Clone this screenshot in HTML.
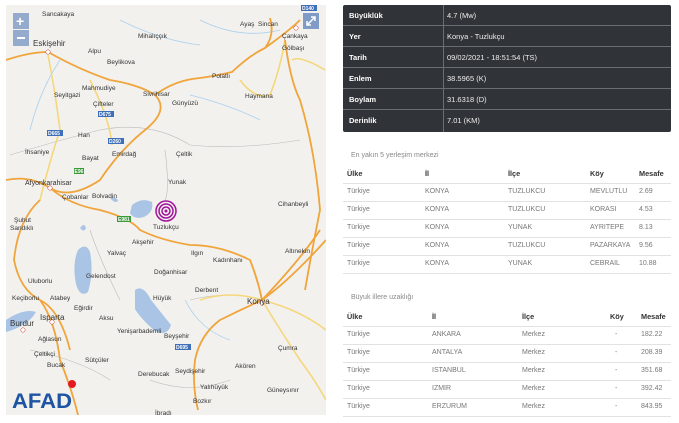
<!DOCTYPE html>
<html><head><meta charset="utf-8"><style>
*{margin:0;padding:0;box-sizing:border-box}
body{width:679px;height:423px;background:#fff;font-family:"Liberation Sans",sans-serif;position:relative;overflow:hidden}
.t{position:absolute;white-space:nowrap}
.dk{position:absolute;left:343px;top:5px;width:328px;height:127px;background:#303337;border-radius:2px}
.dk .r{position:absolute;left:0;width:328px;height:21px;border-bottom:1px solid #6a6d72;font-size:7.5px;color:#eee}
.dk .r b{position:absolute;left:6px;top:6px;font-weight:bold;color:#fff}
.dk .r span{position:absolute;left:104px;top:6px}
.dk .v{position:absolute;left:100px;top:0;width:1px;height:127px;background:#6a6d72}
.tb{position:absolute;font-size:7px;color:#777}
.tb .h{font-weight:bold;color:#333;font-size:7.3px}
.ln{position:absolute;left:343px;width:328px;height:1px;background:#e2e2e2}
.ml{font-family:"Liberation Sans",sans-serif;font-size:6.5px;fill:#333}
</style></head><body>
<svg style="position:absolute;left:6px;top:5px" width="320" height="410" viewBox="6 5 320 410">
<rect x="6" y="5" width="320" height="410" fill="#f2f1ee"/>
<g fill="#a9c4e4">
<path d="M132 205 q10 -8 20 -3 q2 10 -8 15 q-10 3 -14 -4z"/>
<path d="M78 250 q8 -8 12 2 q4 20 -2 40 q-8 6 -12 -8 q-4 -20 2 -34z"/>
<path d="M135 290 q8 -6 16 10 q12 15 20 25 q-4 12 -16 6 q-14 -12 -20 -22z"/>
<path d="M6 320 q18 -12 30 -8 q-8 14 -30 20z"/>
<path d="M110 198 q6 -2 8 3 q-3 3 -8 -3z"/>
<path d="M80 228 q4 -6 6 0 q-2 5 -6 0z"/>
</g>
<g fill="none" stroke="#a9d0ef" stroke-width="0.8">
<path d="M200 20 Q240 40 280 30 M120 20 Q160 40 200 45 M190 95 Q230 105 260 120 M60 60 Q40 90 30 130 M185 300 Q200 330 230 340"/>
</g>
<g fill="none" stroke="#bbb" stroke-width="0.6">
<path d="M10 155 Q60 140 100 130 Q150 120 190 145 Q240 150 300 140 M165 150 Q170 190 165 200 M90 230 Q100 260 120 300 M190 300 Q230 290 260 300 M30 350 Q80 360 110 380 M150 380 Q190 395 230 380"/>
</g>
<g fill="none" stroke="#f5d77a" stroke-width="1.6">
<path d="M48 55 Q55 90 60 130 Q50 160 40 200 M90 80 Q110 120 112 145 M240 80 Q255 100 270 95 Q280 70 285 40 M292 60 Q300 55 325 70 M200 300 Q230 290 262 300 Q300 310 326 330 M262 300 Q280 330 300 360 Q315 380 326 400"/>
</g>
<g fill="none" stroke="#f0a43a" stroke-width="1.8">
<path d="M6 60 Q30 52 48 52 Q80 70 110 80 Q140 85 155 95 Q170 110 145 130 Q120 150 100 180 Q70 200 50 188 Q30 175 6 180"/>
<path d="M155 95 Q175 80 200 78 Q215 76 232 72 Q250 55 265 48 Q275 35 270 18 M265 48 Q290 30 300 20 M285 40 Q290 80 300 100 Q315 150 320 210 Q312 250 305 290 M50 188 Q70 205 100 210 Q130 218 140 230 Q160 240 190 245 Q220 245 250 260 Q258 280 262 300 M262 300 Q240 310 220 320 Q200 335 195 360 Q192 385 198 410 M262 300 Q290 280 326 240 M262 300 Q300 260 320 230 M40 200 Q18 220 14 260 Q20 290 40 300 Q55 320 60 360 Q72 390 78 415 M40 300 Q60 310 70 350"/>
</g>
<g fill="none" stroke="#b0b0b0" stroke-width="0.5"><circle cx="48" cy="52" r="2.2" fill="#fff" stroke="#c33"/><circle cx="50" cy="188" r="2.2" fill="#fff" stroke="#c33"/><circle cx="262" cy="303" r="2.2" fill="#fff" stroke="#c33"/><circle cx="296" cy="28" r="2.2" fill="#fff" stroke="#c33"/><circle cx="23" cy="330" r="2.2" fill="#fff" stroke="#c33"/><circle cx="52" cy="322" r="2.2" fill="#fff" stroke="#c33"/></g>
<g fill="none" stroke="#a0129a" stroke-width="1.5"><circle cx="166" cy="211" r="10"/><circle cx="166" cy="211" r="7"/><circle cx="166" cy="211" r="4"/></g>
<circle cx="166" cy="211" r="1.5" fill="#a0129a"/>
<g class="ml">
<text x="42" y="16">Sancakaya</text><text x="33" y="46" font-size="8">Eskişehir</text><text x="138" y="38">Mihalıççık</text><text x="88" y="53">Alpu</text><text x="107" y="64">Beylikova</text><text x="82" y="90">Mahmudiye</text><text x="54" y="97">Seyitgazi</text><text x="143" y="96">Sivrihisar</text><text x="172" y="105">Günyüzü</text><text x="93" y="106">Çifteler</text><text x="212" y="78">Polatlı</text><text x="245" y="98">Haymana</text><text x="78" y="137">Han</text><text x="25" y="154">İhsaniye</text><text x="82" y="160">Bayat</text><text x="112" y="156">Emirdağ</text><text x="176" y="156">Çeltik</text><text x="168" y="184">Yunak</text><text x="25" y="185" font-size="7">Afyonkarahisar</text><text x="62" y="199">Çobanlar</text><text x="92" y="198">Bolvadin</text><text x="240" y="26">Ayaş</text><text x="258" y="26">Sincan</text><text x="282" y="38">Çankaya</text><text x="282" y="50">Gölbaşı</text><text x="278" y="206">Cihanbeyli</text><text x="14" y="222">Şuhut</text><text x="10" y="230">Sandıklı</text><text x="153" y="229">Tuzlukçu</text><text x="132" y="244">Akşehir</text><text x="107" y="255">Yalvaç</text><text x="191" y="255">Ilgın</text><text x="213" y="262">Kadınhanı</text><text x="285" y="253">Altınekin</text><text x="86" y="278">Gelendost</text><text x="154" y="274">Doğanhisar</text><text x="28" y="283">Uluborlu</text><text x="195" y="292">Derbent</text><text x="153" y="300">Hüyük</text><text x="12" y="300">Keçiborlu</text><text x="50" y="300">Atabey</text><text x="247" y="304" font-size="8">Konya</text><text x="74" y="310">Eğirdir</text><text x="40" y="320" font-size="8">Isparta</text><text x="10" y="326" font-size="8">Burdur</text><text x="99" y="320">Aksu</text><text x="117" y="333">Yenişarbademli</text><text x="164" y="338">Beyşehir</text><text x="38" y="341">Ağlasun</text><text x="34" y="356">Çeltikçi</text><text x="47" y="367">Bucak</text><text x="85" y="362">Sütçüler</text><text x="278" y="350">Çumra</text><text x="235" y="368">Akören</text><text x="138" y="376">Derebucak</text><text x="175" y="373">Seydişehir</text><text x="200" y="389">Yalıhüyük</text><text x="267" y="392">Güneysınır</text><text x="193" y="403">Bozkır</text><text x="155" y="415">İbradı</text>
</g>
<g font-family="Liberation Sans" font-size="5" fill="#fff" font-weight="bold">
<rect x="98" y="111" width="16" height="6" fill="#3f6fb8"/><text x="99" y="116">D675</text>
<rect x="108" y="138" width="16" height="6" fill="#3f6fb8"/><text x="109" y="143">D260</text>
<rect x="47" y="130" width="16" height="6" fill="#3f6fb8"/><text x="48" y="135">D665</text>
<rect x="74" y="168" width="10" height="6" fill="#3a9a3a"/><text x="74.5" y="173">E96</text>
<rect x="117" y="216" width="14" height="6" fill="#3a9a3a"/><text x="118" y="221">E981</text>
<rect x="175" y="344" width="16" height="6" fill="#3f6fb8"/><text x="176" y="349">D695</text>
<rect x="301" y="5" width="16" height="6" fill="#3f6fb8"/><text x="302" y="10">D140</text>
</g>
<rect x="13" y="13" width="16" height="16" fill="#8ba3c9" opacity=".9"/><rect x="13" y="30" width="16" height="16" fill="#8ba3c9" opacity=".9"/>
<text x="16" y="26" font-size="14" fill="#fff" font-family="Liberation Sans" font-weight="bold">+</text><rect x="17" y="37" width="8" height="2" fill="#fff"/>
<rect x="303" y="13" width="16" height="16" fill="#7f9bc6"/><path d="M307 25 L315 17 M311 17 h4 v4 M307 21 v4 h4" stroke="#fff" stroke-width="1.5" fill="none"/>
<text x="12" y="408" font-family="Liberation Sans" font-size="21" font-weight="bold" fill="#1e54a3" textLength="60" lengthAdjust="spacingAndGlyphs">AFAD</text>
<circle cx="72" cy="384" r="4" fill="#e21a22"/>
</svg>
<div class="dk">
<div class="r" style="top:0"><b>Büyüklük</b><span>4.7 (Mw)</span></div>
<div class="r" style="top:21px"><b>Yer</b><span>Konya - Tuzlukçu</span></div>
<div class="r" style="top:42px"><b>Tarih</b><span>09/02/2021 - 18:51:54 (TS)</span></div>
<div class="r" style="top:63px"><b>Enlem</b><span>38.5965 (K)</span></div>
<div class="r" style="top:84px"><b>Boylam</b><span>31.6318 (D)</span></div>
<div class="r" style="top:105px;border:0;height:22px"><b>Derinlik</b><span>7.01 (KM)</span></div>
<div class="v"></div>
</div>
<div class="t" style="left:351px;top:152px;font-size:7px;color:#888">En yakın 5 yerleşim merkezi</div>
<div class="tb" style="left:0;top:0">
<div class="t h" style="left:347px;top:169px">Ülke</div><div class="t h" style="left:425px;top:169px">İl</div><div class="t h" style="left:508px;top:169px">İlçe</div><div class="t h" style="left:590px;top:169px">Köy</div><div class="t h" style="left:639px;top:169px">Mesafe</div>
<div class="t" style="left:347px;top:188px">Türkiye</div><div class="t" style="left:425px;top:188px">KONYA</div><div class="t" style="left:508px;top:188px">TUZLUKCU</div><div class="t" style="left:590px;top:188px">MEVLUTLU</div><div class="t" style="left:639px;top:188px">2.69</div>
<div class="t" style="left:347px;top:206px">Türkiye</div><div class="t" style="left:425px;top:206px">KONYA</div><div class="t" style="left:508px;top:206px">TUZLUKCU</div><div class="t" style="left:590px;top:206px">KORASI</div><div class="t" style="left:639px;top:206px">4.53</div>
<div class="t" style="left:347px;top:224px">Türkiye</div><div class="t" style="left:425px;top:224px">KONYA</div><div class="t" style="left:508px;top:224px">YUNAK</div><div class="t" style="left:590px;top:224px">AYRITEPE</div><div class="t" style="left:639px;top:224px">8.13</div>
<div class="t" style="left:347px;top:242px">Türkiye</div><div class="t" style="left:425px;top:242px">KONYA</div><div class="t" style="left:508px;top:242px">TUZLUKCU</div><div class="t" style="left:590px;top:242px">PAZARKAYA</div><div class="t" style="left:639px;top:242px">9.56</div>
<div class="t" style="left:347px;top:260px">Türkiye</div><div class="t" style="left:425px;top:260px">KONYA</div><div class="t" style="left:508px;top:260px">YUNAK</div><div class="t" style="left:590px;top:260px">CEBRAIL</div><div class="t" style="left:639px;top:260px">10.88</div>
</div>
<div class="ln" style="top:183px"></div><div class="ln" style="top:201px"></div><div class="ln" style="top:219px"></div><div class="ln" style="top:237px"></div><div class="ln" style="top:255px"></div><div class="ln" style="top:273px"></div>
<div class="t" style="left:351px;top:294px;font-size:7px;color:#888">Büyuk illere uzaklığı</div>
<div class="tb" style="left:0;top:0">
<div class="t h" style="left:347px;top:312px">Ülke</div><div class="t h" style="left:432px;top:312px">İl</div><div class="t h" style="left:522px;top:312px">İlçe</div><div class="t h" style="left:610px;top:312px">Köy</div><div class="t h" style="left:641px;top:312px">Mesafe</div>
<div class="t" style="left:347px;top:331px">Türkiye</div><div class="t" style="left:432px;top:331px">ANKARA</div><div class="t" style="left:522px;top:331px">Merkez</div><div class="t" style="left:615px;top:331px">-</div><div class="t" style="left:641px;top:331px">182.22</div>
<div class="t" style="left:347px;top:349px">Türkiye</div><div class="t" style="left:432px;top:349px">ANTALYA</div><div class="t" style="left:522px;top:349px">Merkez</div><div class="t" style="left:615px;top:349px">-</div><div class="t" style="left:641px;top:349px">208.39</div>
<div class="t" style="left:347px;top:367px">Türkiye</div><div class="t" style="left:432px;top:367px">ISTANBUL</div><div class="t" style="left:522px;top:367px">Merkez</div><div class="t" style="left:615px;top:367px">-</div><div class="t" style="left:641px;top:367px">351.68</div>
<div class="t" style="left:347px;top:385px">Türkiye</div><div class="t" style="left:432px;top:385px">IZMIR</div><div class="t" style="left:522px;top:385px">Merkez</div><div class="t" style="left:615px;top:385px">-</div><div class="t" style="left:641px;top:385px">392.42</div>
<div class="t" style="left:347px;top:403px">Türkiye</div><div class="t" style="left:432px;top:403px">ERZURUM</div><div class="t" style="left:522px;top:403px">Merkez</div><div class="t" style="left:615px;top:403px">-</div><div class="t" style="left:641px;top:403px">843.95</div>
</div>
<div class="ln" style="top:326px"></div><div class="ln" style="top:344px"></div><div class="ln" style="top:362px"></div><div class="ln" style="top:380px"></div><div class="ln" style="top:398px"></div><div class="ln" style="top:416px"></div>
</body></html>
